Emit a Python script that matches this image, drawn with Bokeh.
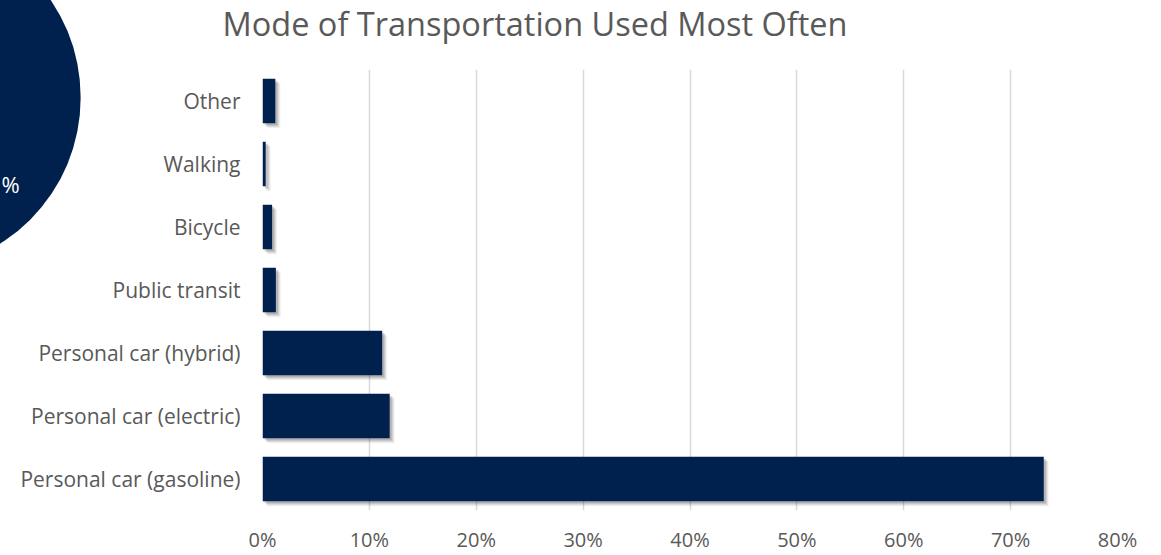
from bokeh.plotting import figure
from bokeh.models import (Range1d, FactorRange, NumeralTickFormatter, FixedTicker,
                          Label, ColumnDataSource)
from bokeh.transform import dodge
from bokeh.embed import file_html
from bokeh.resources import INLINE

categories = ["Personal car (gasoline)", "Personal car (electric)", "Personal car (hybrid)",
              "Public transit", "Bicycle", "Walking", "Other"]
shares = [0.731, 0.119, 0.112, 0.0125, 0.009, 0.003, 0.012]
x_ticks = [0, 0.1, 0.2, 0.3, 0.4, 0.5, 0.6, 0.7, 0.8]
title_text = "Mode of Transportation Used Most Often"

NAVY = "#00214D"
GREY = "#595959"
FONT = "Open Sans"

src = ColumnDataSource(dict(cat=categories, val=shares))

W, H = 1161, 555
p = figure(width=W, height=H, output_backend="svg", toolbar_location=None,
           y_range=FactorRange(*categories, range_padding=0),
           x_range=Range1d(0, 0.8),
           min_border_left=262, min_border_right=44, min_border_top=69, min_border_bottom=45)
p.outline_line_color = None
p.background_fill_color = "white"
p.border_fill_color = "white"
p.title.visible = False

# shadows (a few soft layers)
px_x = 0.8 / 855.0
px_y = 1.0 / 63.3
for k, a in [(5, 0.05), (4, 0.07), (3, 0.09), (2, 0.12)]:
    p.hbar(y=dodge("cat", -k * px_y, range=p.y_range), right=dodge("val", k * px_x),
           left=k * px_x, height=0.71, source=src, fill_color="black", fill_alpha=a,
           line_color=None)

p.hbar(y="cat", right="val", left=0, height=0.71, source=src,
       fill_color=NAVY, line_color=None)

p.xgrid.ticker = FixedTicker(ticks=x_ticks)
p.xgrid.grid_line_color = "#D9D9D9"
p.xgrid.grid_line_width = 1.5
p.ygrid.grid_line_color = None

p.xaxis.ticker = FixedTicker(ticks=x_ticks)
p.xaxis.formatter = NumeralTickFormatter(format="0%")
for ax in (p.xaxis[0], p.yaxis[0]):
    ax.axis_line_color = None
    ax.major_tick_line_color = None
    ax.minor_tick_line_color = None
    ax.major_tick_out = 0
    ax.major_tick_in = 0
    ax.minor_tick_out = 0
    ax.minor_tick_in = 0
    ax.major_label_text_font = FONT
    ax.major_label_text_color = GREY
p.xaxis.major_label_text_font_size = "20px"
p.yaxis.major_label_text_font_size = "21px"
p.xaxis.major_label_standoff = 15
p.yaxis.major_label_standoff = 22

# title (side-panel annotation, absolute canvas position)
p.add_layout(Label(x=222, y=23, x_units="canvas", y_units="canvas", text=title_text,
                   text_align="left", text_baseline="middle", text_color=GREY,
                   text_font=FONT, text_font_size="32.5px"), "above")

# decorative circle at the left edge: a tiny label box stroked with a very wide,
# round-joined border (keeps the panel's layout size negligible)
cx, cy, r = -92, 97, 172
p.add_layout(Label(x=cx, y=cy, x_units="canvas", y_units="canvas", text=" ",
                   text_align="center", text_baseline="middle", text_font_size="1px",
                   border_line_color=NAVY, border_line_width=2 * r,
                   border_line_join="round", background_fill_color=NAVY), "right")
p.add_layout(Label(x=1, y=183, x_units="canvas", y_units="canvas", text="%",
                   text_align="left", text_baseline="middle", text_color="white",
                   text_font=FONT, text_font_size="22px"), "right")

open("out.html", "w").write(file_html(p, INLINE))
